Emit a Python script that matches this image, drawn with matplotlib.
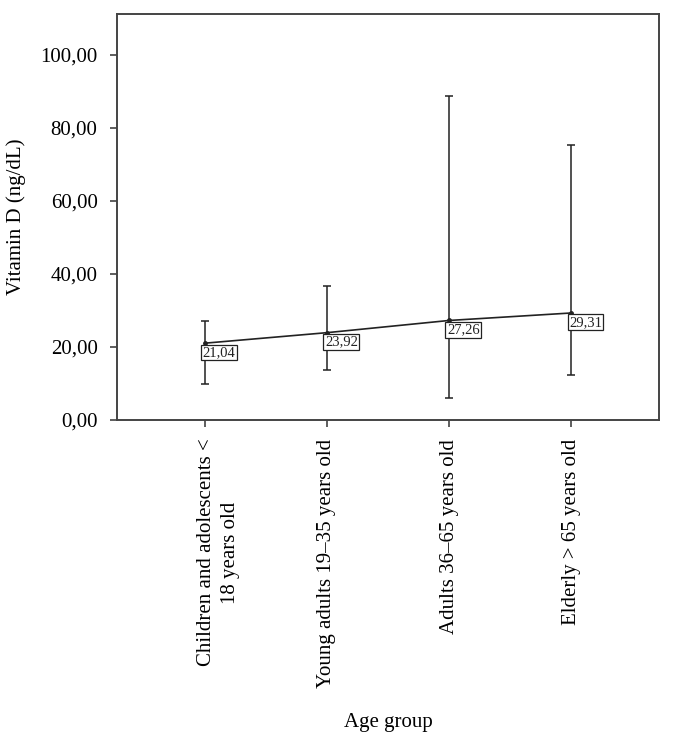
import matplotlib
matplotlib.use("Agg")
import matplotlib.pyplot as plt
import matplotlib.transforms as mtransforms
from matplotlib.ticker import FuncFormatter

categories = ["Children and adolescents <\n18 years old",
              "Young adults 19\u201335 years old",
              "Adults 36\u201365 years old",
              "Elderly > 65 years old"]
means = [21.04, 23.92, 27.26, 29.31]
upper = [27.2, 36.6, 88.8, 75.4]
lower = [9.8, 13.8, 5.9, 12.2]
mean_labels = ["21,04", "23,92", "27,26", "29,31"]

plt.rcParams['font.family'] = ['Liberation Serif', 'DejaVu Serif']
dpi = 100
fig = plt.figure(figsize=(6.74, 7.49), dpi=dpi)
ax = fig.add_axes([117/674, 1-420/749, (659-117)/674, (420-14)/749])

x = list(range(len(categories)))
yerr = [[m - l for m, l in zip(means, lower)], [u - m for m, u in zip(means, upper)]]
ax.errorbar(x, means, yerr=yerr, fmt='none', ecolor='#222222', elinewidth=1.1,
            capsize=3, capthick=1.1, zorder=2)
ax.plot(x, means, color='#222222', lw=1.2, marker='o', ms=2.5, zorder=3)

for xi, m, lab in zip(x, means, mean_labels):
    ax.annotate(lab, (xi, m), xytext=(-1.5, -2), textcoords='offset points',
                ha='left', va='top', fontsize=10.5, color='#222222',
                bbox=dict(boxstyle='square,pad=0.1', fc='white', ec='#222222', lw=0.9),
                zorder=4)

ax.set_xlim(-0.72, 3.72)
ax.set_ylim(0, 111.2)
ax.set_yticks([0, 20, 40, 60, 80, 100])
ax.yaxis.set_major_formatter(FuncFormatter(lambda v, p: f"{v:.2f}".replace('.', ',')))
ax.set_xticks(x)
ax.set_xticklabels(categories, rotation=90, ha='center', va='top', fontsize=15,
                   linespacing=1.35)
ax.tick_params(axis='y', labelsize=15, length=5, width=1.1, pad=9, color='#333333')
ax.tick_params(axis='x', length=5, width=1.1, pad=8.5, color='#333333')

lab0 = ax.get_xticklabels()[0]
lab0.set_transform(lab0.get_transform() + mtransforms.ScaledTranslation(13.5/dpi, 0, fig.dpi_scale_trans))

for s in ax.spines.values():
    s.set_color('#444444')
    s.set_linewidth(1.4)

ax.set_ylabel("Vitamin D (ng/dL)", fontsize=15, labelpad=10)
fig.text(388/674, 1-722/749, "Age group", ha='center', va='center', fontsize=15)

fig.savefig("out.png", dpi=dpi)
